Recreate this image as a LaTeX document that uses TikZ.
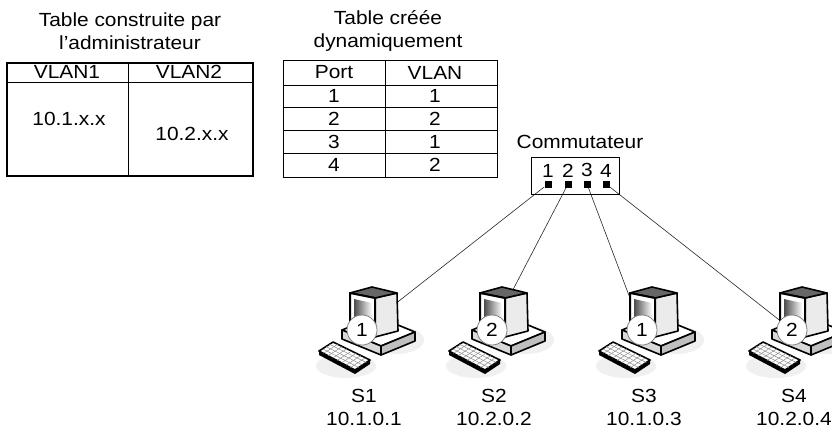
\documentclass[tikz,border=0pt]{standalone}
\usepackage{fontspec}
\setmainfont{Liberation Sans}[FakeStretch=1.1]
\usetikzlibrary{positioning, calc, backgrounds}

\begin{document}
\begin{tikzpicture}[x=1pt, y=-1pt,
    every node/.style={font=\fontsize{19}{23}\selectfont, inner sep=0pt},
    grid/.style={line width=0.8pt},
    frame/.style={line width=1.3pt},
    port/.style={fill=black, minimum size=7pt, inner sep=0pt},
    link/.style={line width=0.6pt, black!85},
    outline/.style={line width=1.6pt, line join=round},
    pics/computer/.style n args={3}{code={
        % soft shadow on the desk
        \fill[black!6] (34,10) ellipse[x radius=28pt, y radius=14pt];
        \fill[black!6] (-16,36) ellipse[x radius=30pt, y radius=12pt];
        % desktop case
        \filldraw[fill=white, outline]
            (-20,0) -- (19,16) -- (53,2) -- (14,-14) -- cycle;
        \filldraw[fill=black!15, outline]
            (-20,0) -- (19,16) -- (19,25) -- (-20,9) -- cycle;
        \filldraw[fill=black!25, outline]
            (19,16) -- (53,2) -- (53,11) -- (19,25) -- cycle;
        % monitor
        \filldraw[fill=black!8, outline]
            (13,-32) -- (35,-37) -- (36,1) -- (13,7) -- cycle;
        \filldraw[fill=black!60, outline]
            (-12,-37) -- (13,-32) -- (35,-37) -- (10,-43) -- cycle;
        \filldraw[fill=white, line width=2pt, line join=round]
            (-12,-37) -- (13,-32) -- (13,7) -- (-12,-2) -- cycle;
        \shade[left color=black!70, right color=white]
            (-8,-31) -- (10,-27) -- (10,1) -- (-8,-5) -- cycle;
        % keyboard
        \fill (-43,21) -- (-29,12) -- (8,30) -- (8,34) -- (-7,44) -- (-43,25) -- cycle;
        \filldraw[fill=white, line width=1.6pt, line join=round]
            (-43,21) -- (-29,12) -- (8,30) -- (-7,40) -- cycle;
        \foreach \f in {0.25,0.5,0.75}
            \draw[black!45, line width=0.5pt] ($(-43,21)!\f!(-29,12)$) -- ($(-7,40)!\f!(8,30)$);
        \foreach \f in {0.125,0.25,...,0.875}
            \draw[black!45, line width=0.5pt] ($(-43,21)!\f!(-7,40)$) -- ($(-29,12)!\f!(8,30)$);
        % VLAN number
        \node[circle, draw=black!50, line width=0.8pt, fill=white, minimum size=30pt] (-vlan) at (0,0) {#1};
        \coordinate (-c) at (0,0);
        % name and address
        \node (-name) at (2,66) {#2};
        \node (-ip) at (2,89) {#3};
    }}
]
\useasboundingbox (0,0) rectangle (832,431);

% table built by the administrator
\node[align=center] (adm) at (130,31) {Table construite par\\l'administrateur};
\draw[frame] (7,63) rectangle (253,176);
\draw[grid] (7,82) -- (253,82);
\draw[grid] (128,63) -- (128,176);
\node (v1) at (67,72) {VLAN1};
\node (v2) at (189,72) {VLAN2};
\node (net1) at (69,119) {10.1.x.x};
\node (net2) at (192,134) {10.2.x.x};

% dynamic port table
\node[align=center] (dyn) at (388,31) {Table créée\\dynamiquement};
\draw[grid] (283,60) rectangle (497,177);
\foreach \y in {85,107,130,153}
    \draw[grid] (283,\y) -- (497,\y);
\draw[grid] (385,60) -- (385,177);
\node (hport) at (334,72.5) {Port};
\node (hvlan) at (435,72.5) {VLAN};
\foreach \p/\v/\y in {1/1/96, 2/2/118.5, 3/1/141.5, 4/2/165} {
    \node (port\p) at (334,\y) {\p};
    \node (vlan\p) at (435,\y) {\v};
}

% switch with its four ports
\node[draw, line width=0.8pt, minimum width=88pt, minimum height=37pt] (sw) at (575,175.5) {};
\node (swlbl) at (580,142) {Commutateur};
\foreach \i/\x in {1/548, 2/568, 3/587, 4/606} {
    \node[port] (p\i) at (\x,184) {};
    \node[above=3pt of p\i] (n\i) {\i};
}

% stations
\pic (pc1) at (362,330) {computer={1}{S1}{10.1.0.1}};
\pic (pc2) at (492,330) {computer={2}{S2}{10.2.0.2}};
\pic (pc3) at (642,330) {computer={1}{S3}{10.1.0.3}};
\pic (pc4) at (792,330) {computer={2}{S4}{10.2.0.4}};

% cables behind the stations
\begin{scope}[on background layer]
    \foreach \i in {1,...,4}
        \draw[link] (p\i) -- (pc\i-c);
\end{scope}
\end{tikzpicture}
\end{document}
